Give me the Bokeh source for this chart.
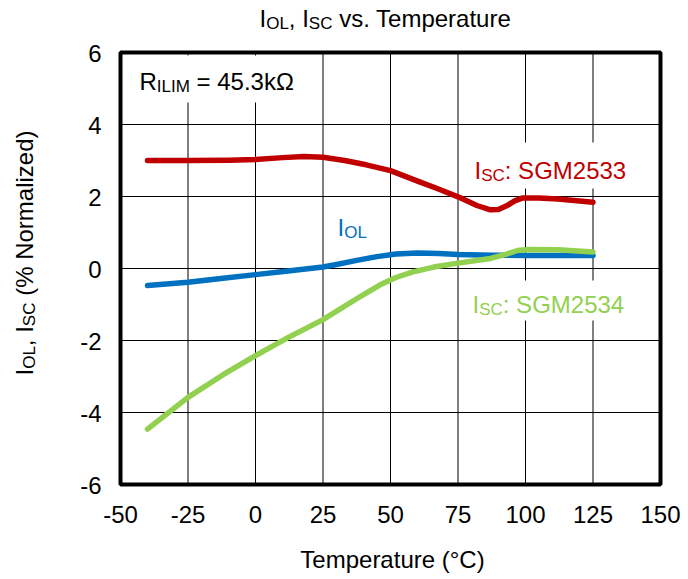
import math

from bokeh.plotting import figure
from bokeh.models import Label
from bokeh.core.properties import value
from bokeh.embed import file_html
from bokeh.resources import INLINE

# data

temp_sgm2533 = [-40, -25, -10, 0, 10, 18, 25, 33, 41, 50, 61, 68, 75, 82, 87, 90, 93, 96, 99, 105, 112, 125]
isc_sgm2533 = [3.0, 3.0, 3.01, 3.03, 3.08, 3.11, 3.09, 3.0, 2.88, 2.72, 2.4, 2.2, 1.99, 1.75, 1.63, 1.64, 1.74, 1.88, 1.96, 1.96, 1.93, 1.84]

temp_iol = [-40, -25, -12, 0, 12, 25, 30, 37, 45, 52, 60, 68, 75, 88, 100, 112, 125]
iol = [-0.47, -0.38, -0.27, -0.17, -0.07, 0.04, 0.11, 0.22, 0.33, 0.4, 0.43, 0.42, 0.39, 0.37, 0.36, 0.36, 0.36]

temp_sgm2534 = [-40, -25, -12, 0, 12, 25, 37, 46, 52, 58, 66, 75, 87, 93, 97, 101, 112, 125]
isc_sgm2534 = [-4.46, -3.58, -2.95, -2.42, -1.92, -1.42, -0.86, -0.46, -0.25, -0.1, 0.04, 0.15, 0.28, 0.4, 0.5, 0.53, 0.52, 0.46]

x_ticks = [-50, -25, 0, 25, 50, 75, 100, 125, 150]
y_ticks = [-6, -4, -2, 0, 2, 4, 6]
x_tick_labels = [str(t) for t in x_ticks]
y_tick_labels = [str(t) for t in y_ticks]

X_LO, X_HI = -50, 150
Y_LO, Y_HI = -6, 6

RED = "#C00000"
BLUE = "#0070C0"
GREEN = "#92D050"
FONT = "Liberation Sans"

# where the plot box sits on the canvas, in pixels
FX0, FX1, FY0, FY1 = 120, 660, 52, 484
W_FIG, H_FIG = 688, 579

# the svg text comes out about 0.35 em below the asked-for baseline
SHIFT = 0.35

# Arial / Liberation Sans advance widths (per 1000 em)
W = {" ": 278, "(": 333, ")": 333, "%": 889, ",": 278, "-": 333, ".": 278,
     ":": 278, "=": 584, "C": 722, "G": 778, "I": 278, "L": 556, "M": 833,
     "N": 722, "O": 778, "R": 722, "S": 667, "T": 611, "a": 556, "d": 556,
     "e": 556, "i": 222, "k": 500, "l": 222, "m": 833, "o": 556, "p": 556,
     "r": 333, "s": 500, "t": 278, "u": 556, "v": 500, "z": 500, "Ω": 768,
     "°": 400}


def tw(s, size):
    return sum(W.get(c, 556) for c in s) * size / 1000.0


def dx(px):
    return X_LO + (px - FX0) * (X_HI - X_LO) / (FX1 - FX0)


def dy(py):
    return Y_HI - (py - FY0) * (Y_HI - Y_LO) / (FY1 - FY0)


def put(p, px, py, text, size, color, angle=0.0, align="left"):
    if angle:
        px -= SHIFT * size
    else:
        py -= SHIFT * size
    p.add_layout(Label(x=dx(px), y=dy(py), text=text, text_font=FONT,
                       text_font_size="%dpx" % size, text_color=color,
                       text_align=align, text_baseline="alphabetic",
                       angle=angle))


def rich(p, px, py, parts, color, vertical=False):
    # parts: (text, subscript?) pieces laid out one after the other;
    # leading blanks are turned into an advance (svg drops them)
    for text, sub in parts:
        size = 17 if sub else 24
        drop = 3 if sub else 0
        lead = len(text) - len(text.lstrip(" "))
        adv = tw(" " * lead, size)
        text = text.lstrip(" ")
        if vertical:
            py -= adv
            put(p, px + drop, py, text, size, color, angle=math.pi / 2)
            py -= tw(text, size)
        else:
            px += adv
            put(p, px, py + drop, text, size, color)
            px += tw(text, size)


# the frame is the whole canvas; the plot box is drawn inside it
p = figure(width=W_FIG, height=H_FIG,
           x_range=(dx(0), dx(W_FIG)), y_range=(dy(H_FIG), dy(0)),
           x_axis_location=None, y_axis_location=None,
           output_backend="svg", toolbar_location=None, min_border=0)
p.grid.grid_line_color = None
p.outline_line_color = None
p.background_fill_color = "white"
p.border_fill_color = "white"

# grid
p.segment(x0=x_ticks, y0=Y_LO, x1=x_ticks, y1=Y_HI, line_color="black", line_width=1)
p.segment(x0=X_LO, y0=y_ticks, x1=X_HI, y1=y_ticks, line_color="black", line_width=1)

# white boxes behind the in-plot labels (they break the grid lines)
p.quad(left=[dx(123), dx(468), dx(468)], right=[dx(300), dx(632), dx(632)],
       bottom=[dy(102), dy(188), dy(320)], top=[dy(55), dy(142), dy(280)],
       fill_color="white", line_color=None)

p.line(temp_sgm2533, isc_sgm2533, line_color=RED, line_width=5.5,
       line_cap="round", line_join="round")
p.line(temp_iol, iol, line_color=BLUE, line_width=5.5,
       line_cap="round", line_join="round")
p.line(temp_sgm2534, isc_sgm2534, line_color=GREEN, line_width=5.5,
       line_cap="round", line_join="round")

# plot box
p.quad(left=X_LO, right=X_HI, bottom=Y_LO, top=Y_HI, fill_color=None,
       line_color="black", line_width=4)

# tick labels
p.text(x=x_ticks, y=Y_LO, text=x_tick_labels, text_font=value(FONT),
       text_font_size="24px", text_color="black", text_align="center",
       text_baseline="alphabetic", y_offset=38 - SHIFT * 24)
p.text(x=X_LO, y=y_ticks, text=y_tick_labels, text_font=value(FONT),
       text_font_size="24px", text_color="black", text_align="right",
       text_baseline="alphabetic", x_offset=-19, y_offset=9 - SHIFT * 24)

# title
rich(p, 259, 26, [("I", False), ("OL", True), (", I", False), ("SC", True),
                  (" vs. Temperature", False)], "black")

# axis titles
put(p, 392, 567, "Temperature (°C)", 24, "black", align="center")
rich(p, 32, 375, [("I", False), ("OL", True), (", I", False), ("SC", True),
                  (" (% Normalized)", False)], "black", vertical=True)

# annotations
rich(p, 139, 89, [("R", False), ("ILIM", True), (" = 45.3kΩ", False)], "black")
rich(p, 337, 235, [("I", False), ("OL", True)], BLUE)
rich(p, 474, 178, [("I", False), ("SC", True), (": SGM2533", False)], RED)
rich(p, 472, 312, [("I", False), ("SC", True), (": SGM2534", False)], GREEN)

open("out.html", "w").write(file_html(p, INLINE))
